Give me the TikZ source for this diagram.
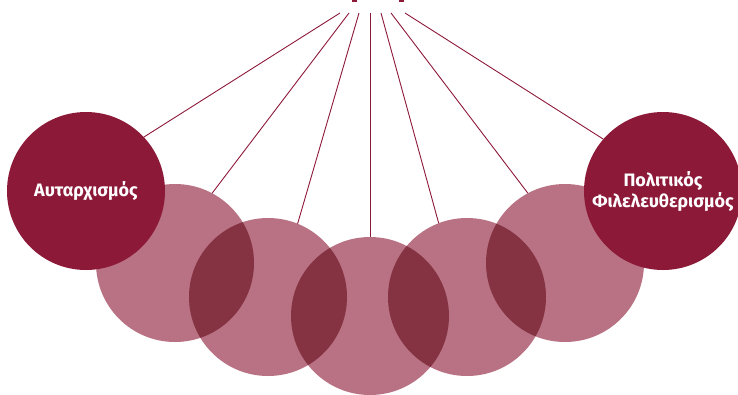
\documentclass[tikz,border=0pt]{standalone}
\usepackage{fontspec}
\setmainfont{Fira Sans}
\definecolor{darkred}{RGB}{141,25,57}
\definecolor{lightred}{RGB}{184,114,131}
\definecolor{overlapred}{RGB}{133,51,67}
\tikzset{
  ball/.style={circle, inner sep=0pt, outer sep=0pt, minimum size=158pt, fill=lightred},
  bigball/.style={circle, inner sep=0pt, outer sep=0pt, minimum size=158pt, fill=darkred,
    text=white, font=\fontsize{18}{21}\selectfont\bfseries, align=center},
  string/.style={draw=darkred, line width=0.9pt}
}
\begin{document}
\begin{tikzpicture}[x=1pt,y=-1pt]
\useasboundingbox (0,0) rectangle (738,394);
% string start points
\coordinate (s1) at (340,13);
\coordinate (s2) at (349,13);
\coordinate (s3) at (359,13);
\coordinate (s4) at (370,13);
\coordinate (s5) at (381,13);
\coordinate (s6) at (391,13);
\coordinate (s7) at (405,13);
% top marks
\fill[darkred] (352,-2) rectangle (357,1.5);
\fill[darkred] (399,-2) rectangle (404,1.5);
% balls (positions)
\coordinate (p1) at (175,263);
\coordinate (p2) at (268,297);
\coordinate (p3) at (370,316);
\coordinate (p4) at (467,297);
\coordinate (p5) at (565,263);
\coordinate (pl) at (86,191);
\coordinate (pr) at (663,191);
% light balls
\node[ball] (b1) at (p1) {};
\node[ball] (b2) at (p2) {};
\node[ball] (b3) at (p3) {};
\node[ball] (b4) at (p4) {};
\node[ball] (b5) at (p5) {};
% overlaps
\begin{scope}\clip (p1) circle[radius=79pt]; \fill[overlapred] (p2) circle[radius=79pt];\end{scope}
\begin{scope}\clip (p2) circle[radius=79pt]; \fill[overlapred] (p3) circle[radius=79pt];\end{scope}
\begin{scope}\clip (p3) circle[radius=79pt]; \fill[overlapred] (p4) circle[radius=79pt];\end{scope}
\begin{scope}\clip (p4) circle[radius=79pt]; \fill[overlapred] (p5) circle[radius=79pt];\end{scope}
% dark balls
\node[bigball] (bl) at (pl) {Αυταρχισμός};
\node[bigball] (br) at (pr) {Πολιτικός\\Φιλελευθερισμός};
% strings
\draw[string] (s1) -- (bl.43);
\draw[string] (s2) -- (b1.62.5);
\draw[string] (s3) -- (b2.68);
\draw[string] (s4) -- (b3.90);
\draw[string] (s5) -- (b4.111);
\draw[string] (s6) -- (b5.118);
\draw[string] (s7) -- (br.139.5);
\end{tikzpicture}
\end{document}
